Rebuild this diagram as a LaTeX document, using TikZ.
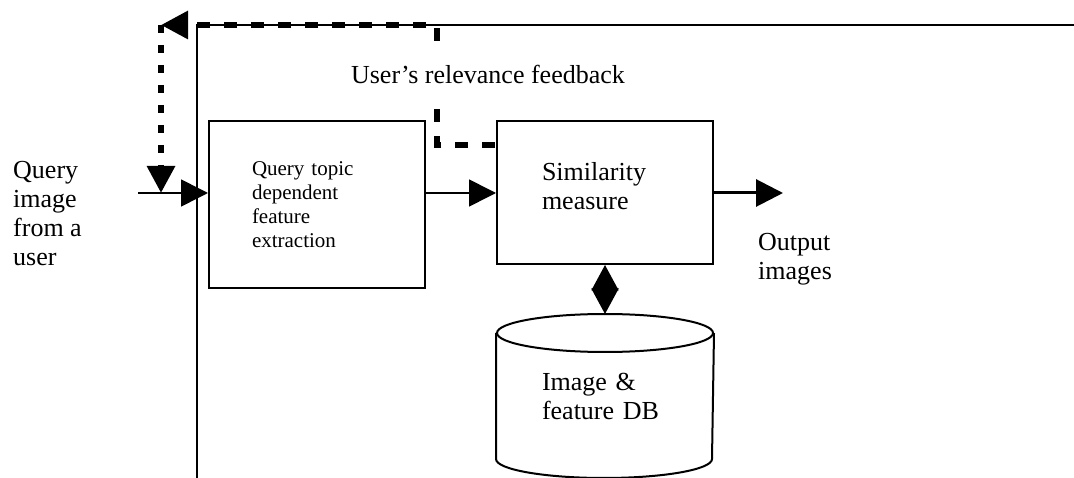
\documentclass[tikz,border=0pt]{standalone}
\usepackage{fontspec}
\setmainfont{Liberation Serif}
\usetikzlibrary{arrows.meta}
\usetikzlibrary{positioning}

\begin{document}
\begin{tikzpicture}
[x=1pt,y=-1pt,%
  boxDecorate/.style={draw,line width=2pt,minimum width=216pt,inner sep=0pt,align=left},%
  bigText/.style={font=\fontsize{26}{29}\selectfont},%
  smallText/.style={font=\fontsize{21}{24}\selectfont},%
  frameLine/.style={line width=2.5pt},%
  flowLine/.style={line width=1.6pt,-{Triangle[length=27pt,width=27pt]}},%
  outLine/.style={line width=3pt,-{Triangle[length=27pt,width=27pt]}},%
  dbLine/.style={line width=2pt,{Triangle[length=25.5pt,width=27pt]}-{Triangle[length=25.5pt,width=27pt]}},%
  feedLine/.style={line width=6pt,dash pattern=on 13pt off 14pt,-{Triangle[length=27pt,width=27pt]}},%
  feedDown/.style={line width=6pt,dash pattern=on 8pt off 12pt,-{Triangle[length=27pt,width=27pt]}}]
\useasboundingbox (0,0) rectangle (1074,478);
%% outer frame
\draw[frameLine] (197,478) -- (197,25) -- (1074,25);
%% blocks
\node[boxDecorate,smallText,minimum height=167pt,text width=130pt] (qbox) at (317,204.5)
  {Query topic\\dependent\\feature\\extraction};
\node[boxDecorate,bigText,minimum height=143pt,text width=126pt,text depth=43pt] (sbox) at (605,192.5)
  {Similarity\\measure};
\node[boxDecorate,bigText,draw=none,minimum height=162pt,text width=126pt] (db) at (605,396)
  {Image \&\\feature DB};
%% database drum
\draw[line width=2pt] ([yshift=-19pt]db.north west) -- ([yshift=19pt]db.south west)
  arc[start angle=180,end angle=360,x radius=108pt,y radius=19pt]
  -- ([yshift=-19pt]db.north east);
\draw[line width=2pt] ([yshift=-19pt]db.north) ellipse[x radius=108pt,y radius=19pt];
%% free ends
\coordinate (qin) at (138,193);
\coordinate (qout) at (783,193);
\coordinate (fbs) at (495,145);
\coordinate (fbtop) at (437,25);
\coordinate (fbtip) at (161,25);
%% side labels
\node[bigText,align=left,inner sep=0pt,anchor=north west] (qlabel) at (13,161)
  {Query\\image\\from a\\user};
\node[bigText,align=left,inner sep=0pt,anchor=north west] (olabel) at (758,233)
  {Output\\images};
%% connections
\draw[flowLine] (qin) -- (qin -| qbox.west);
\draw[flowLine] (qbox.east |- qin) -- (sbox.west |- qin);
\draw[outLine] (sbox.east |- qin) -- (qout);
\draw[dbLine] (sbox.south) -- (db.north);
%% relevance feedback
\draw[feedLine] (fbs) -| (fbtop) -- (fbtip);
\draw[feedDown] (fbtip) -- (fbtip |- qin);
\node[bigText,fill=white,inner xsep=4pt,inner ysep=12pt] (fblabel) at (488,74)
  {User’s relevance feedback};
\end{tikzpicture}
\end{document}
